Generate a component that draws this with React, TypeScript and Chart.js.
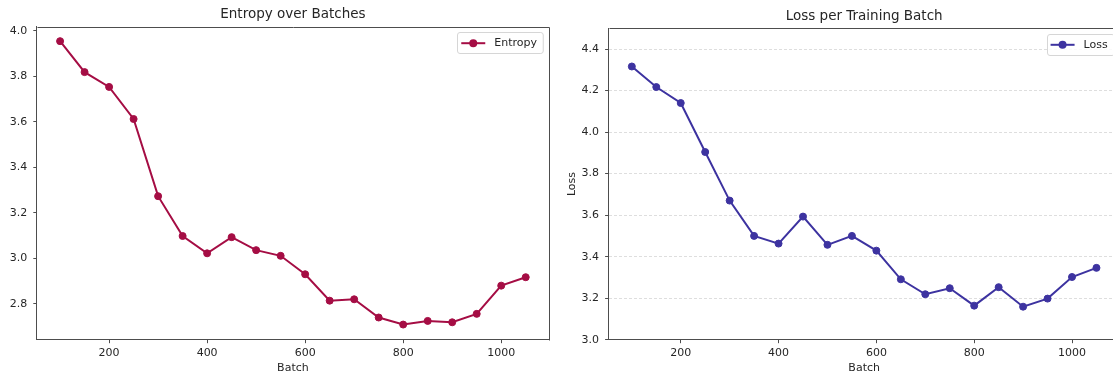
import React, { useEffect, useRef } from 'react';
import { Chart, registerables } from 'chart.js';

Chart.register(...registerables);

// ---- data ----
const batches = [100, 150, 200, 250, 300, 350, 400, 450, 500, 550, 600, 650, 700, 750, 800, 850, 900, 950, 1000, 1050];
const entropyValues = [3.954, 3.818, 3.753, 3.612, 3.273, 3.098, 3.022, 3.093, 3.036, 3.011, 2.930, 2.814, 2.820, 2.740, 2.709, 2.725, 2.719, 2.756, 2.880, 2.917];
const lossValues = [4.316, 4.217, 4.140, 3.904, 3.670, 3.500, 3.463, 3.593, 3.457, 3.500, 3.429, 3.291, 3.219, 3.248, 3.164, 3.253, 3.159, 3.198, 3.302, 3.346];
const batchTicks = [200, 400, 600, 800, 1000];
const entropyTicks = [2.8, 3.0, 3.2, 3.4, 3.6, 3.8, 4.0];
const lossTicks = [3.0, 3.2, 3.4, 3.6, 3.8, 4.0, 4.2, 4.4];

const FONT = "'DejaVu Sans', sans-serif";
const TEXT = '#262626';
const SPINE = '#4d4d4d';
const TICK_SIZE = 11;

const mplPlugin = {
  id: 'mplExtras',
  afterDraw(chart: any) {
    const o = chart.options.plugins.mplExtras || {};
    const { ctx, chartArea } = chart;
    const { left, right, top, bottom } = chartArea;
    ctx.save();
    // top and right spines
    ctx.strokeStyle = SPINE;
    ctx.lineWidth = 1;
    ctx.beginPath();
    ctx.moveTo(Math.round(left) + 0.5, Math.round(top) + 0.5);
    ctx.lineTo(Math.round(right) + 0.5, Math.round(top) + 0.5);
    ctx.lineTo(Math.round(right) + 0.5, Math.round(bottom) + 0.5);
    ctx.stroke();
    // title
    ctx.fillStyle = TEXT;
    ctx.font = `13.5px ${FONT}`;
    ctx.textAlign = 'center';
    ctx.textBaseline = 'middle';
    ctx.fillText(o.title, (left + right) / 2, top - 12);
    // legend (matplotlib style, inside upper right)
    const ds = chart.data.datasets[0];
    ctx.font = `11px ${FONT}`;
    const tw = ctx.measureText(ds.label).width;
    const padL = 4, handle = 24, gap = 9, padR = 6, h = 21;
    const w = padL + handle + gap + tw + padR;
    const x1 = right - 6 - w;
    const y1 = top + 5.5;
    ctx.beginPath();
    ctx.roundRect(Math.round(x1) + 0.5, Math.round(y1) + 0.5, w, h, 2.5);
    ctx.fillStyle = 'rgba(255,255,255,0.85)';
    ctx.fill();
    ctx.strokeStyle = '#d6d6d6';
    ctx.lineWidth = 1;
    ctx.stroke();
    const cy = y1 + h / 2 + 0.5;
    ctx.strokeStyle = ds.borderColor;
    ctx.lineWidth = 2;
    ctx.beginPath();
    ctx.moveTo(x1 + padL, cy);
    ctx.lineTo(x1 + padL + handle, cy);
    ctx.stroke();
    ctx.fillStyle = ds.borderColor;
    ctx.beginPath();
    ctx.arc(x1 + padL + handle / 2, cy, 4, 0, Math.PI * 2);
    ctx.fill();
    ctx.fillStyle = TEXT;
    ctx.textAlign = 'left';
    ctx.textBaseline = 'middle';
    ctx.fillText(ds.label, x1 + padL + handle + gap, cy);
    ctx.restore();
  },
};

function makeConfig(p: {
  label: string;
  values: number[];
  color: string;
  yTicks: number[];
  yMin: number;
  yMax: number;
  xMin: number;
  xMax: number;
  yTitle?: string;
  grid: boolean;
  yWidth: number;
  padTop: number;
  padRight: number;
  title: string;
}): any {
  return {
    type: 'line',
    data: {
      datasets: [
        {
          label: p.label,
          data: batches.map((b, i) => ({ x: b, y: p.values[i] })),
          borderColor: p.color,
          backgroundColor: p.color,
          pointBackgroundColor: p.color,
          pointBorderColor: p.color,
          borderWidth: 2,
          pointRadius: 3.5,
          pointBorderWidth: 1,
          tension: 0,
        },
      ],
    },
    options: {
      animation: false,
      responsive: false,
      devicePixelRatio: 1,
      layout: { padding: { left: 0, right: p.padRight, top: p.padTop, bottom: 0 } },
      plugins: {
        legend: { display: false },
        title: { display: false },
        tooltip: { enabled: false },
        mplExtras: { title: p.title },
      },
      scales: {
        x: {
          type: 'linear',
          min: p.xMin,
          max: p.xMax,
          afterBuildTicks: (s: any) => {
            s.ticks = batchTicks.map((v) => ({ value: v }));
          },
          afterFit: (s: any) => {
            s.height = 38.3;
          },
          ticks: {
            color: TEXT,
            font: { family: FONT, size: TICK_SIZE },
            padding: 3,
            maxRotation: 0,
            callback: (v: any) => String(v),
          },
          grid: {
            drawOnChartArea: false,
            drawTicks: true,
            tickLength: 3.5,
            tickColor: SPINE,
            tickWidth: 1,
          },
          border: { display: true, color: SPINE, width: 1 },
          title: {
            display: true,
            text: 'Batch',
            color: TEXT,
            font: { family: FONT, size: TICK_SIZE },
            padding: { top: 0, bottom: 3.4 },
          },
        },
        y: {
          type: 'linear',
          min: p.yMin,
          max: p.yMax,
          afterBuildTicks: (s: any) => {
            s.ticks = p.yTicks.map((v) => ({ value: v }));
          },
          afterFit: (s: any) => {
            s.width = p.yWidth;
          },
          ticks: {
            color: TEXT,
            font: { family: FONT, size: TICK_SIZE },
            padding: 6,
            callback: (v: any) => Number(v).toFixed(1),
          },
          grid: {
            display: true,
            drawOnChartArea: p.grid,
            drawTicks: true,
            tickLength: 3.5,
            color: '#dedede',
            lineWidth: 1,
            tickColor: SPINE,
            tickWidth: 1,
            tickBorderDash: [],
          },
          border: { display: true, color: SPINE, width: 1, dash: p.grid ? [3, 2] : [] },
          title: {
            display: !!p.yTitle,
            text: p.yTitle || '',
            color: TEXT,
            font: { family: FONT, size: TICK_SIZE },
            padding: { top: 9.4, bottom: 0 },
          },
        },
      },
    },
    plugins: [mplPlugin],
  };
}

function ChartCanvas({ config, width, height, left }: { config: any; width: number; height: number; left: number }) {
  const ref = useRef<HTMLCanvasElement | null>(null);
  useEffect(() => {
    if (!ref.current) return;
    const chart = new Chart(ref.current, config);
    return () => chart.destroy();
  }, [config]);
  return (
    <canvas
      ref={ref}
      width={width}
      height={height}
      style={{ position: 'absolute', left, top: 0, width, height, display: 'block' }}
    />
  );
}

const entropyConfig = makeConfig({
  label: 'Entropy',
  values: entropyValues,
  color: '#a50d44',
  yTicks: entropyTicks,
  yMin: 2.6425,
  yMax: 4.0175,
  xMin: 52.5,
  xMax: 1097.5,
  grid: false,
  yWidth: 36.8,
  padTop: 26.7,
  padRight: 7,
  title: 'Entropy over Batches',
});

const lossConfig = makeConfig({
  label: 'Loss',
  values: lossValues,
  color: '#3d33a0',
  yTicks: lossTicks,
  yMin: 3.0,
  yMax: 4.5,
  xMin: 52.5,
  xMax: 1097.5,
  yTitle: 'Loss',
  grid: true,
  yWidth: 52.6,
  padTop: 28.3,
  padRight: 10.3,
  title: 'Loss per Training Batch',
});

export default function App() {
  return (
    <div
      style={{
        position: 'fixed',
        left: 0,
        top: 0,
        width: 1113,
        height: 378,
        overflow: 'hidden',
        background: '#ffffff',
      }}
    >
      <ChartCanvas config={entropyConfig} width={556} height={378} left={0} />
      <ChartCanvas config={lossConfig} width={574} height={378} left={556} />
    </div>
  );
}
